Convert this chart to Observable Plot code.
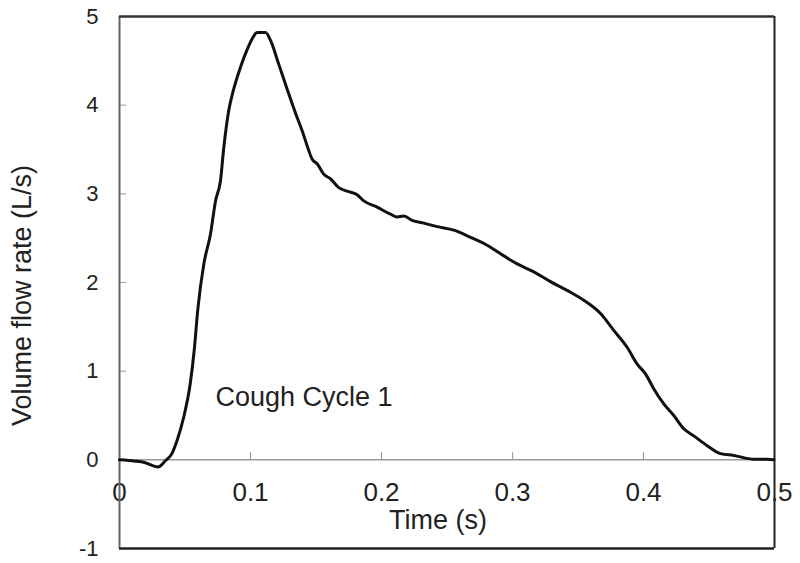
<!DOCTYPE html>
<html>
<head>
<meta charset="utf-8">
<script src="https://cdn.jsdelivr.net/npm/d3@7"></script>
<script src="https://cdn.jsdelivr.net/npm/@observablehq/plot@0.6"></script>
<style>
  html, body { margin: 0; padding: 0; background: #fff; }
  #chart svg { display: block; }
</style>
</head>
<body>
<div id="chart"></div>
<script>
// Time (s)
const time = [0, 0.012, 0.019, 0.0295, 0.035, 0.040, 0.044, 0.049, 0.054, 0.057, 0.0598,
  0.0644, 0.0695, 0.0733, 0.0771, 0.0796, 0.0834, 0.0868, 0.0924, 0.0975, 0.1025, 0.1051,
  0.1115, 0.1153, 0.1216, 0.128, 0.1356, 0.1395, 0.1433, 0.1471, 0.1509, 0.156, 0.161,
  0.1674, 0.1738, 0.1814, 0.1865, 0.1967, 0.2069, 0.212, 0.2171, 0.2234, 0.2323, 0.2425,
  0.2552, 0.2679, 0.2806, 0.2934, 0.3036, 0.3163, 0.329, 0.3443, 0.3544, 0.3672, 0.3773,
  0.3875, 0.3952, 0.4015, 0.4079, 0.4155, 0.4231, 0.4308, 0.4384, 0.4486, 0.4588, 0.4689,
  0.4842, 0.4944, 0.4995];
// Volume flow rate (L/s)
const flow = [0, -0.015, -0.03, -0.08, -0.01, 0.07, 0.22, 0.48, 0.86, 1.23, 1.70,
  2.21, 2.55, 2.92, 3.15, 3.52, 3.94, 4.16, 4.43, 4.63, 4.78, 4.82,
  4.82, 4.73, 4.46, 4.18, 3.86, 3.71, 3.54, 3.39, 3.34, 3.22, 3.17,
  3.07, 3.03, 2.99, 2.92, 2.85, 2.77, 2.74, 2.75, 2.70, 2.67, 2.63,
  2.59, 2.51, 2.42, 2.30, 2.21, 2.12, 2.01, 1.89, 1.80, 1.65, 1.46,
  1.27, 1.08, 0.97, 0.80, 0.63, 0.50, 0.35, 0.27, 0.16, 0.07, 0.05,
  0.007, 0.007, 0];

const xTicks = [0, 0.1, 0.2, 0.3, 0.4, 0.5];
const xTickLabels = ["0", "0.1", "0.2", "0.3", "0.4", "0.5"];
const yTicks = [-1, 0, 1, 2, 3, 4, 5];
const xLabel = ["Time (s)"];
const yLabel = ["Volume flow rate (L/s)"];
const annotation = [{t: 0.0733, v: 0.70, text: "Cough Cycle 1"}];

const data = time.map((t, i) => ({t, v: flow[i]}));
const font = "'Liberation Sans', Arial, sans-serif";

const chart = Plot.plot({
  width: 800,
  height: 563,
  marginLeft: 119,
  marginRight: 26,
  marginTop: 16,
  marginBottom: 15,
  style: {fontFamily: font, background: "#fff", color: "#222"},
  x: {domain: [0, 0.5], axis: null},
  y: {domain: [-1, 5], axis: null},
  marks: [
    // zero line
    Plot.ruleY([0], {stroke: "#9a9a9a", strokeWidth: 1.5}),
    // x ticks upward from zero line
    Plot.ruleX(xTicks.slice(1, -1), {x: d => d, y1: 0, y2: 0, insetBottom: 7, stroke: "#9a9a9a", strokeWidth: 1.2}),
    // y ticks inward
    Plot.ruleY(yTicks.slice(1, -1), {y: d => d, x1: 0, x2: 0, insetRight: -7, stroke: "#aaa", strokeWidth: 1.2}),
    // y tick labels
    Plot.axisY(yTicks, {tickSize: 0, tickPadding: 21, fontSize: 22, label: null, tickFormat: d => d < 0 ? "-" + Math.abs(d) : String(d)}),
    // x tick labels below zero line
    Plot.text(xTicks, {x: d => d, y: 0, dy: 33, text: (d, i) => xTickLabels[i], fontSize: 26, lineAnchor: "middle", fill: "#222"}),
    // x axis title
    Plot.text(xLabel, {frameAnchor: "bottom", dx: -9, dy: -28, text: d => d, fontSize: 27, textAnchor: "middle", lineAnchor: "middle", fill: "#222"}),
    // y axis title
    Plot.text(yLabel, {frameAnchor: "left", dx: -97, dy: 13, rotate: -90, text: d => d, fontSize: 27, textAnchor: "middle", lineAnchor: "middle", fill: "#222"}),
    // annotation
    Plot.text(annotation, {x: "t", y: "v", text: "text", textAnchor: "start", fontSize: 27, fill: "#222"}),
    // frame
    Plot.ruleX([0], {stroke: "#666", strokeWidth: 2}),
    Plot.ruleX([0.5], {stroke: "#222", strokeWidth: 2}),
    Plot.ruleY([5], {stroke: "#333", strokeWidth: 2.5}),
    Plot.ruleY([-1], {stroke: "#222", strokeWidth: 2.5}),
    // curve
    Plot.line(data, {x: "t", y: "v", stroke: "#111", strokeWidth: 3, curve: "monotone-x"})
  ]
});
document.getElementById("chart").append(chart);
</script>
</body>
</html>
